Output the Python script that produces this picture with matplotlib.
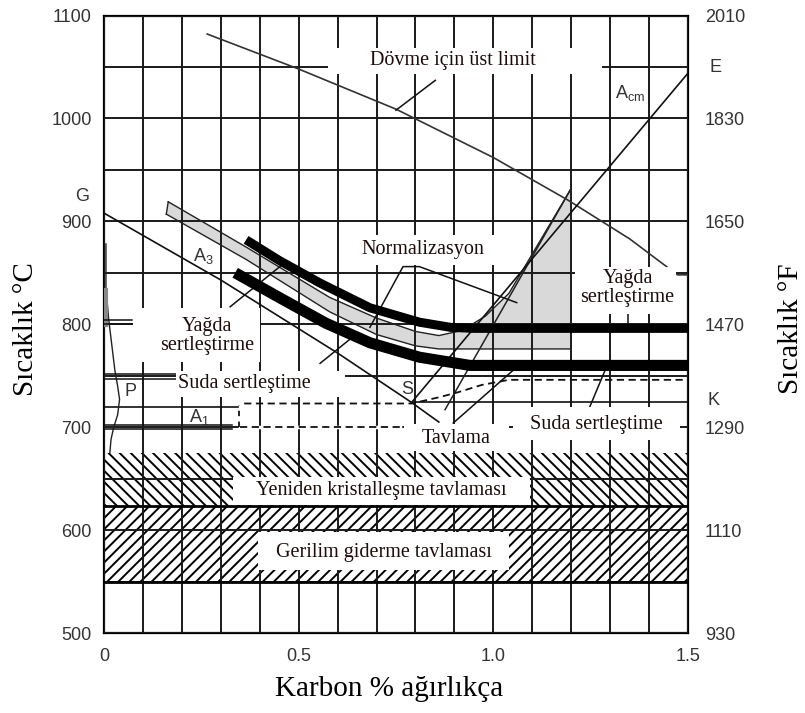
import matplotlib
matplotlib.use("Agg")
import matplotlib.pyplot as plt
from matplotlib.patches import Rectangle

plt.rcParams["hatch.linewidth"] = 1.4

# axes / ticks
x_ticks = [0, 0.5, 1.0, 1.5]
x_tick_labels = ["0", "0.5", "1.0", "1.5"]
y_ticks = [500, 600, 700, 800, 900, 1000, 1100]
f_tick_labels = ["930", "1110", "1290", "1470", "1650", "1830", "2010"]

# upper forging limit
forge_c = [0.265, 0.5, 0.75, 1.0, 1.19, 1.35, 1.473, 1.5]
forge_t = [1082, 1048, 1009, 962, 921, 883, 848, 848]

# phase lines
a3_c = [0, 0.3, 0.6, 0.79, 0.86]
a3_t = [908, 843, 772, 724, 705]
acm_c = [0.79, 1.5]
acm_t = [724, 1044]
a1_left_c = [0, 0.345]
a1_left_t = [720, 720]
a1_right_c = [0.79, 1.5]
a1_right_t = [724, 724]
ferrite_c = [0.005, 0.005, 0.012, 0.02, 0.028, 0.035, 0.04, 0.035, 0.025, 0.018, 0.015]
ferrite_t = [878, 835, 805, 780, 755, 740, 727, 712, 700, 688, 675]

# hardening ranges (thick black)
oil_c = [0.365, 0.45, 0.555, 0.683, 0.81, 0.89, 0.95, 1.5]
oil_t = [882, 862, 840, 816, 802, 797, 796, 796]
water_c = [0.337, 0.45, 0.57, 0.683, 0.81, 0.94, 1.5]
water_t = [850, 826, 801, 782, 768, 760, 760]

# normalizing band (grey)
norm_top_c = [0.165, 0.365, 0.58, 0.70, 0.80, 0.86, 0.92, 0.98, 1.04, 1.2]
norm_top_t = [919, 875, 826, 806, 793, 789, 794, 808, 830, 932]
norm_bot_c = [1.2, 1.2, 0.86, 0.80, 0.70, 0.58, 0.365, 0.16]
norm_bot_t = [932, 776, 776, 779, 790, 812, 863, 907]
norm_edge_c = [0.876, 1.2]
norm_edge_t = [717, 932]

# annealing (dashed)
anneal_up_c = [0.36, 0.79, 0.86, 0.91, 0.97, 1.04, 1.5]
anneal_up_t = [723, 723, 729, 734, 741, 746, 746]
anneal_low_c = [0.35, 0.76]
anneal_low_t = [700, 700]
anneal_diag_c = [0.897, 1.05]
anneal_diag_t = [704, 755]

# hatched bands
recryst_band = (623, 675)
stress_band = (550, 623)

serif = "Liberation Serif"
sans = "Liberation Sans"
txt_col = "#1e0c0c"
lab_col = "#333333"

fig = plt.figure(figsize=(8.05, 7.13), dpi=100)
ax = fig.add_axes([104 / 805, 1 - 633 / 713, 584 / 805, 617.5 / 713])
ax.set_xlim(0, 1.5)
ax.set_ylim(500, 1100)

ax.set_xticks(x_ticks)
ax.set_xticklabels(x_tick_labels, fontfamily=sans, fontsize=13, color=lab_col)
ax.set_xticks([i / 10 for i in range(16)], minor=True)
ax.set_yticks(y_ticks)
ax.set_yticklabels([str(v) for v in y_ticks], fontfamily=sans, fontsize=13, color=lab_col)
ax.set_yticks(list(range(500, 1101, 50)), minor=True)
ax.tick_params(which="both", length=0)
ax.tick_params(axis="x", pad=11)
ax.tick_params(axis="y", pad=9)
ax.set_axisbelow(False)
ax.grid(which="both", color="#1a1a1a", lw=1.4)
for s in ax.spines.values():
    s.set_linewidth(1.6)

ax2 = ax.twinx()
ax2.set_ylim(500, 1100)
ax2.set_yticks(y_ticks)
ax2.set_yticklabels(f_tick_labels, fontfamily=sans, fontsize=13, color=lab_col)
ax2.tick_params(length=0, pad=12)
for s in ax2.spines.values():
    s.set_visible(False)

# hatched annealing bands
ax.fill_between([0, 1.5], *recryst_band, facecolor="none", edgecolor="black",
                hatch="\\\\\\", lw=0, zorder=1)
ax.fill_between([0, 1.5], *stress_band, facecolor="none", edgecolor="black",
                hatch="///", lw=0, zorder=1)
for yb in (stress_band[0], stress_band[1]):
    ax.plot([0, 1.5], [yb, yb], color="black", lw=2, zorder=3)

# grey normalizing band
ax.fill(norm_top_c + norm_bot_c, norm_top_t + norm_bot_t, facecolor="#d9d9d9",
        edgecolor="none", zorder=2)
ax.plot(norm_top_c, norm_top_t, color="#222222", lw=1.0, zorder=4)
ax.plot(norm_bot_c, norm_bot_t, color="#222222", lw=1.0, zorder=4)
ax.plot(norm_top_c[:1] + norm_bot_c[-1:], norm_top_t[:1] + norm_bot_t[-1:],
        color="#222222", lw=1.0, zorder=4)
ax.plot(norm_edge_c, norm_edge_t, color="#222222", lw=1.1, zorder=4)

# phase lines
ax.plot(forge_c, forge_t, color="#333333", lw=1.2, zorder=4)
ax.plot(a3_c, a3_t, color="#111111", lw=1.2, zorder=4)
ax.plot(acm_c, acm_t, color="#111111", lw=1.2, zorder=4)
ax.plot(a1_left_c, a1_left_t, color="#111111", lw=1.2, zorder=4)
ax.plot(a1_right_c, a1_right_t, color="#111111", lw=1.2, zorder=4)
ax.plot(ferrite_c, ferrite_t, color="#222222", lw=1.0, zorder=4)
ax.plot([0.006, 0.006], [833, 799], color="#888888", lw=3, zorder=4)

# double lines at the left edge
for y0, y1, x1 in ((804, 800, 0.072), (752, 747, 0.185), (702, 698, 0.33)):
    ax.plot([0, x1], [y0, y0], color="#111111", lw=1.1, zorder=4)
    ax.plot([0, x1], [y1, y1], color="#111111", lw=1.1, zorder=4)

# thick hardening curves
ax.plot(oil_c, oil_t, color="black", lw=6.5, solid_capstyle="butt", zorder=4.5)
ax.plot(water_c, water_t, color="black", lw=8, solid_capstyle="butt", zorder=4.5)

# annealing dashes
ax.plot(anneal_low_c, anneal_low_t, color="white", lw=2.5, zorder=3.5)
ax.plot(anneal_up_c, anneal_up_t, color="#111111", lw=1.3, ls=(0, (4, 2.5)), zorder=4)
ax.plot(anneal_low_c, anneal_low_t, color="#111111", lw=1.3, ls=(0, (4, 2.5)), zorder=4)
ax.plot([0.347, 0.347], [700, 722], color="#111111", lw=1.3, ls=(0, (3, 3)), zorder=4)
ax.plot(anneal_diag_c, anneal_diag_t, color="#111111", lw=1.1, zorder=4)

# leader lines
leaders = [
    ([0.75, 0.851], [1008, 1037]),
    ([0.683, 0.768, 0.81, 1.06], [797, 856, 856, 821]),
    ([0.324, 0.455], [817, 857]),
    ([0.555, 0.64], [762, 788]),
    ([1.346, 1.346], [812, 800]),
    ([1.248, 1.29], [720, 758]),
]
for lc, lt in leaders:
    ax.plot(lc, lt, color="#111111", lw=1.1, zorder=4)

# white masks behind labels
masks = [
    (0.575, 1043, 0.705, 25),   # Dövme
    (0.64, 858, 0.37, 29),      # Normalizasyon
    (0.075, 763, 0.325, 53),    # Yağda (left)
    (0.185, 729, 0.435, 26),    # Suda (left)
    (0.77, 677, 0.27, 26),      # Tavlama
    (1.05, 688, 0.43, 32),      # Suda (right)
    (1.21, 810, 0.26, 46),      # Yağda (right)
    (0.332, 624, 0.763, 28),    # Yeniden
    (0.396, 561, 0.644, 37),    # Gerilim
]
for mx, my, mw, mh in masks:
    ax.add_patch(Rectangle((mx, my), mw, mh, facecolor="white", edgecolor="none", zorder=5))

tkw = dict(fontfamily=serif, fontsize=14.5, color=txt_col, ha="center", va="center", zorder=6)
ax.text(0.895, 1056, "Dövme için üst limit", **tkw)
ax.text(0.82, 873, "Normalizasyon", **tkw)
ax.text(0.265, 789, "Yağda\nsertleştirme", linespacing=1.0, **tkw)
ax.text(0.36, 742, "Suda sertleştime", **tkw)
ax.text(0.905, 689, "Tavlama", **tkw)
ax.text(1.265, 703, "Suda sertleştime", **tkw)
ax.text(1.345, 835, "Yağda\nsertleştirme", linespacing=1.0, **tkw)
ax.text(0.713, 638, "Yeniden kristalleşme tavlaması", **tkw)
ax.text(0.718, 578, "Gerilim giderme tavlaması", **tkw)

skw = dict(fontfamily=sans, fontsize=13, color=lab_col, ha="center", va="center", zorder=6)
ax.text(-0.056, 924, "G", clip_on=False, **skw)
ax.text(1.57, 1049, "E", clip_on=False, **skw)
ax.text(1.565, 726, "K", clip_on=False, **skw)
ax.text(0.067, 735, "P", **skw)
ax.text(0.255, 866, r"A$_\mathregular{3}$", **skw)
ax.text(0.245, 710, r"A$_\mathregular{1}$", **skw)
ax.text(1.35, 1025, r"A$_\mathregular{cm}$", **skw)
ax.text(0.78, 737, "S", **skw)

fig.text(0.032, 0.539, "Sıcaklık °C", rotation=90, ha="center", va="center",
         fontfamily=serif, fontsize=21, color="black")
fig.text(0.982, 0.539, "Sıcaklık °F", rotation=90, ha="center", va="center",
         fontfamily=serif, fontsize=21, color="black")
fig.text(0.484, 0.033, "Karbon % ağırlıkça", ha="center", va="center",
         fontfamily=serif, fontsize=21, color="black")

fig.savefig("out.png", dpi=100)
